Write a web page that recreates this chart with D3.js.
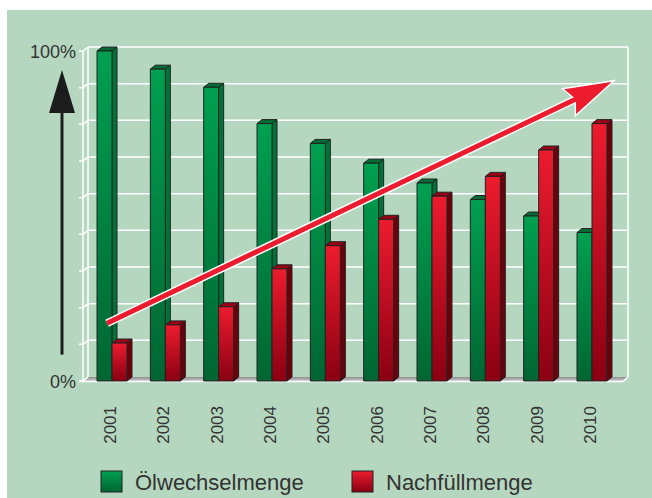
<!DOCTYPE html>
<html>
<head>
<meta charset="utf-8">
<script src="https://cdn.jsdelivr.net/npm/d3@7"></script>
<style>
  html, body { margin: 0; padding: 0; background: #fff; }
  svg { display: block; font-family: "Liberation Sans", Arial, sans-serif; }
</style>
</head>
<body>
<div id="chart"></div>
<script>
'use strict';

const years = ['2001', '2002', '2003', '2004', '2005', '2006', '2007', '2008', '2009', '2010'];
const oilChange = [100, 94.5, 89, 78, 72, 66, 60, 55, 50, 45];      // Ölwechselmenge
const topUp = [11.5, 17, 22.5, 34, 41, 49, 56, 62, 70, 78];         // Nachfüllmenge
const seriesNames = ['Ölwechselmenge', 'Nachfüllmenge'];
const axisLabels = [{ v: 0, t: '0%' }, { v: 100, t: '100%' }];
const gridSteps = 9;

const width = 652, height = 498;
const depth = { dx: 5, dy: -4 };
const textColor = '#333';

const svg = d3.select('#chart')
    .append('svg')
    .attr('width', width)
    .attr('height', height);

const defs = svg.append('defs');
function grad(id, top, bottom) {
    const g = defs.append('linearGradient')
        .attr('id', id).attr('x1', 0).attr('y1', 0).attr('x2', 0).attr('y2', 1);
    g.append('stop').attr('offset', '0%').attr('stop-color', top);
    g.append('stop').attr('offset', '100%').attr('stop-color', bottom);
}
grad('gFront', '#00a050', '#006632');
grad('rFront', '#ec1c2e', '#8a0012');
grad('floorG', '#8e8e8e', '#c8c8c8');

const colors = {
    green: { front: 'url(#gFront)', side: '#007338', top: '#006c34' },
    red: { front: 'url(#rFront)', side: '#6e000c', top: '#9c0016' }
};

// green background panel
svg.append('rect')
    .attr('x', 7).attr('y', 10)
    .attr('width', width - 7).attr('height', height - 10)
    .attr('fill', '#b5d7bf');

const x0 = d3.scaleBand()
    .domain(years)
    .range([88, 616])
    .paddingInner(0.4377)
    .paddingOuter(0.169);
const x1 = d3.scaleBand()
    .domain(seriesNames)
    .range([0, x0.bandwidth()]);
const y = d3.scaleLinear().domain([0, 100]).range([381, 51]);

const backLeft = 88, backRight = 628;
const frontLeft = backLeft - depth.dx;

// floor
svg.append('polygon')
    .attr('points', [[frontLeft, y(0)], [backLeft, y(0) + depth.dy], [backRight, y(0) + depth.dy], [backRight - depth.dx, y(0)]].join(' '))
    .attr('fill', 'url(#floorG)');
svg.append('line')
    .attr('x1', frontLeft - 4).attr('x2', backRight - depth.dx)
    .attr('y1', y(0) + 0.5).attr('y2', y(0) + 0.5)
    .attr('stroke', '#fff').attr('stroke-width', 1.5);
svg.append('line')
    .attr('x1', backRight - depth.dx).attr('y1', y(0) + 0.5)
    .attr('x2', backRight).attr('y2', y(0) + depth.dy)
    .attr('stroke', '#fff').attr('stroke-width', 1.5);

// back wall grid
const gridVals = d3.range(gridSteps + 1).map(i => i * 100 / gridSteps);
const grid = svg.append('g').attr('stroke', '#fff').attr('stroke-width', 1.5).attr('fill', 'none');
grid.selectAll('line.h')
    .data(gridVals.slice(1))
    .join('line')
    .attr('x1', backLeft).attr('x2', backRight)
    .attr('y1', d => y(d) + depth.dy).attr('y2', d => y(d) + depth.dy);
grid.append('line')
    .attr('x1', backLeft).attr('x2', backLeft)
    .attr('y1', y(100) + depth.dy).attr('y2', y(0) + depth.dy);
grid.append('line')
    .attr('x1', backRight).attr('x2', backRight)
    .attr('y1', y(100) + depth.dy).attr('y2', y(0) + depth.dy);
grid.append('line')
    .attr('x1', frontLeft).attr('x2', frontLeft)
    .attr('y1', y(100)).attr('y2', y(0));
// left wall ticks
grid.selectAll('path.tick')
    .data(gridVals)
    .join('path')
    .attr('d', d => `M${frontLeft - 4},${y(d)}L${frontLeft},${y(d)}L${backLeft},${y(d) + depth.dy}`);

// bars
const groups = svg.append('g')
    .selectAll('g')
    .data(years.map((yr, i) => ({ yr, vals: [
        { key: seriesNames[0], v: oilChange[i], c: colors.green },
        { key: seriesNames[1], v: topUp[i], c: colors.red }
    ] })))
    .join('g')
    .attr('transform', d => `translate(${x0(d.yr)},0)`);

const bars = groups.selectAll('g.bar')
    .data(d => d.vals)
    .join('g')
    .attr('class', 'bar')
    .attr('stroke', '#222')
    .attr('stroke-width', 1)
    .attr('stroke-linejoin', 'round');

const bw = x1.bandwidth();
bars.append('polygon')
    .attr('points', d => {
        const xa = x1(d.key) + bw, yt = y(d.v), yb = y(0);
        return [[xa, yt], [xa + depth.dx, yt + depth.dy], [xa + depth.dx, yb + depth.dy], [xa, yb]].join(' ');
    })
    .attr('fill', d => d.c.side);
bars.append('polygon')
    .attr('points', d => {
        const xa = x1(d.key), yt = y(d.v);
        return [[xa, yt], [xa + depth.dx, yt + depth.dy], [xa + bw + depth.dx, yt + depth.dy], [xa + bw, yt]].join(' ');
    })
    .attr('fill', d => d.c.top);
bars.append('rect')
    .attr('x', d => x1(d.key))
    .attr('y', d => y(d.v))
    .attr('width', bw)
    .attr('height', d => y(0) - y(d.v))
    .attr('fill', d => d.c.front);

// y labels
svg.append('g')
    .selectAll('text')
    .data(axisLabels)
    .join('text')
    .attr('x', 76)
    .attr('y', d => y(d.v) + 1)
    .attr('dy', '0.35em')
    .attr('text-anchor', 'end')
    .attr('font-size', 18)
    .attr('fill', textColor)
    .text(d => d.t);

// year labels
svg.append('g')
    .selectAll('text')
    .data(years)
    .join('text')
    .attr('transform', d => `translate(${x0(d) + x0.bandwidth() / 2 - 2},406) rotate(-90)`)
    .attr('dy', '0.35em')
    .attr('text-anchor', 'end')
    .attr('font-size', 17)
    .attr('fill', textColor)
    .text(d => d);

// black upward arrow
svg.append('line')
    .attr('x1', 62).attr('x2', 62)
    .attr('y1', 110).attr('y2', y(8))
    .attr('stroke', '#1c1c1c').attr('stroke-width', 3);
svg.append('polygon')
    .attr('points', [[62, 70], [75, 113], [49, 113]].join(' '))
    .attr('fill', '#1c1c1c');

// red trend arrow
const aStart = [x0('2001') + 10, y(17.5)];
const aEnd = [x0('2010') + 37, y(91)];
const ang = Math.atan2(aEnd[1] - aStart[1], aEnd[0] - aStart[0]);
const headLen = 50, headHalf = 15;
const ux = Math.cos(ang), uy = Math.sin(ang);
const base = [aEnd[0] - ux * headLen, aEnd[1] - uy * headLen];
const notch = [aEnd[0] - ux * (headLen - 7), aEnd[1] - uy * (headLen - 7)];
const head = [
    aEnd,
    [base[0] - uy * headHalf, base[1] + ux * headHalf],
    notch,
    [base[0] + uy * headHalf, base[1] - ux * headHalf]
];
const arrow = svg.append('g');
arrow.append('line')
    .attr('x1', aStart[0]).attr('y1', aStart[1])
    .attr('x2', notch[0]).attr('y2', notch[1])
    .attr('stroke', '#fff').attr('stroke-width', 8);
arrow.append('polygon')
    .attr('points', head.join(' '))
    .attr('fill', '#ec1c2e')
    .attr('stroke', '#fff').attr('stroke-width', 1.5).attr('stroke-linejoin', 'miter');
arrow.append('line')
    .attr('x1', aStart[0]).attr('y1', aStart[1])
    .attr('x2', notch[0] + ux * 2).attr('y2', notch[1] + uy * 2)
    .attr('stroke', '#ec1c2e').attr('stroke-width', 5);

// legend
const legend = svg.append('g')
    .selectAll('g')
    .data([{ name: seriesNames[0], fill: 'url(#gFront)', x: 101 }, { name: seriesNames[1], fill: 'url(#rFront)', x: 352 }])
    .join('g')
    .attr('transform', d => `translate(${d.x},471)`);
legend.append('rect')
    .attr('width', 21).attr('height', 21)
    .attr('fill', d => d.fill)
    .attr('stroke', '#222').attr('stroke-width', 1);
legend.append('text')
    .attr('x', 34).attr('y', 19)
    .attr('font-size', 22)
    .attr('fill', textColor)
    .text(d => d.name);
</script>
</body>
</html>
